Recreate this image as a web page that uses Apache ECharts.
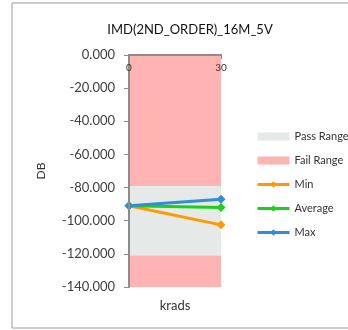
<!DOCTYPE html>
<html>
<head>
<meta charset="utf-8">
<script src="https://cdn.jsdelivr.net/npm/echarts@6/dist/echarts.min.js"></script>
<style>
  html, body { margin: 0; padding: 0; background: #fff; }
  #chart { width: 348px; height: 330px; }
</style>
</head>
<body>
<div id="chart"></div>
<script>
// krads steps
const categories = ['0', '30'];
// limit bands (stacked from 0 downward)
const failTop = [-79, -79];
const passBand = [-42, -42];
const failBottom = [-19, -19];
// measured series
const minVals = [-91, -102.5];
const avgVals = [-91, -92];
const maxVals = [-91, -87];

const font = 'Lato, "DejaVu Sans", sans-serif';
const chart = echarts.init(document.getElementById('chart'));

const band = (name, data, color) => ({
  name: name,
  type: 'line',
  stack: 'limits',
  data: data,
  showSymbol: false,
  symbol: 'none',
  lineStyle: { width: 0 },
  areaStyle: { color: color, opacity: 1 },
  itemStyle: { color: color },
  silent: true,
  z: 1
});

const line = (name, data, color) => ({
  name: name,
  type: 'line',
  data: data,
  symbol: 'diamond',
  symbolSize: 9,
  lineStyle: { width: 3, color: color },
  itemStyle: { color: color },
  z: 3
});

chart.setOption({
  animation: false,
  textStyle: { fontFamily: font },
  graphic: [{
    type: 'rect',
    shape: { x: 12, y: 3, width: 345, height: 325 },
    style: { fill: 'none', stroke: '#9a9a9a', lineWidth: 1 }
  }],
  title: {
    text: 'IMD(2ND_ORDER)_16M_5V',
    left: 185,
    textAlign: 'center',
    top: 18,
    textStyle: { fontSize: 13, fontWeight: 'normal', color: '#111', fontFamily: font }
  },
  legend: {
    orient: 'vertical',
    left: 251,
    top: 126,
    itemWidth: 32,
    itemHeight: 8,
    itemGap: 13,
    lineStyle: { width: 3 },
    textStyle: { fontSize: 11, color: '#333', fontFamily: font },
    data: [
      { name: 'Pass Range', icon: 'rect' },
      { name: 'Fail Range', icon: 'rect' },
      'Min', 'Average', 'Max'
    ]
  },
  grid: { left: 129, right: 127, top: 55, bottom: 43 },
  xAxis: [{
    type: 'category',
    data: categories,
    position: 'top',
    boundaryGap: false,
    z: 10,
    axisLine: { lineStyle: { color: '#8c8c8c', width: 2 } },
    axisTick: { inside: true, length: 4, lineStyle: { color: '#8c8c8c' } },
    axisLabel: { inside: true, margin: 8, fontSize: 10, color: '#333' }
  }, {
    type: 'category',
    data: categories,
    position: 'bottom',
    boundaryGap: false,
    axisLine: { show: false },
    axisTick: { show: false },
    axisLabel: { show: false },
    name: 'krads',
    nameLocation: 'middle',
    nameGap: 12,
    nameTextStyle: { fontSize: 13, color: '#333' }
  }],
  yAxis: {
    type: 'value',
    min: -140,
    max: 0,
    interval: 20,
    z: 10,
    name: 'DB',
    nameLocation: 'middle',
    nameGap: 82,
    nameTextStyle: { fontSize: 12, color: '#333' },
    axisLine: { show: true, lineStyle: { color: '#8c8c8c', width: 2 } },
    axisTick: { show: true, length: 5, lineStyle: { color: '#8c8c8c' } },
    axisLabel: { fontSize: 13, color: '#404040', margin: 14, formatter: v => v.toFixed(3) },
    splitLine: { show: false }
  },
  series: [
    band('Fail Range', failTop, '#ffb3b3'),
    band('Pass Range', passBand, '#e5e9e8'),
    band('Fail Range', failBottom, '#ffb3b3'),
    line('Min', minVals, '#ff9900'),
    line('Average', avgVals, '#19d119'),
    line('Max', maxVals, '#2e8fd6')
  ]
});
</script>
</body>
</html>
